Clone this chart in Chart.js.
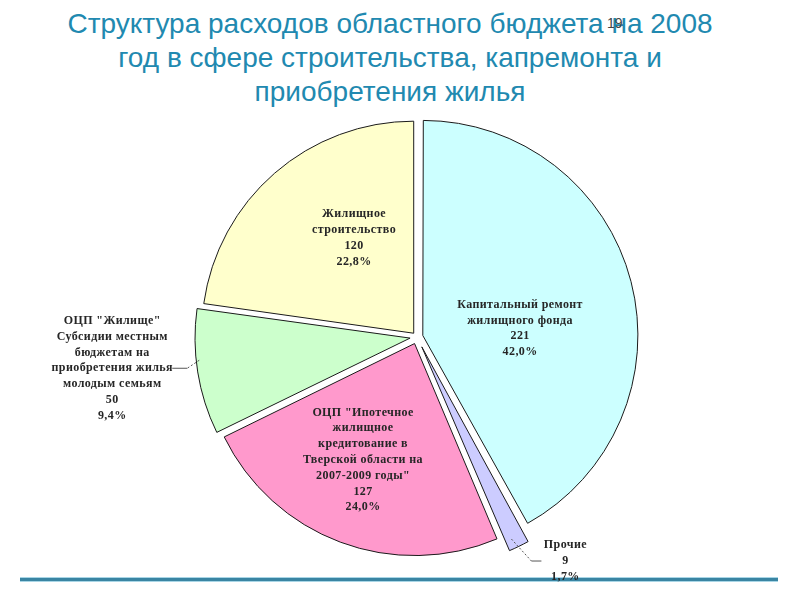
<!DOCTYPE html>
<html>
<head>
<meta charset="utf-8">
<script src="https://cdn.jsdelivr.net/npm/chart.js@4"></script>
<style>
  html, body { margin: 0; padding: 0; background: #fff; }
  #wrap { position: relative; width: 800px; height: 600px; overflow: hidden; }
  #title {
    position: absolute; left: -10px; top: 7px; width: 800px; text-align: center;
    font-family: "Liberation Sans", Arial, sans-serif; font-size: 28px; line-height: 34px;
    color: #2189b0;
  }
  #slideNo {
    position: absolute; left: 607px; top: 15px;
    font-family: "Liberation Sans", Arial, sans-serif; font-size: 14px; color: #444;
  }
  #rule {
    position: absolute; left: 20px; top: 577px; width: 758px; height: 3px;
    background: #3a85a3; border-top: 1px solid #a9d6e6; border-bottom: 1px solid #a9d6e6;
  }
  canvas { position: absolute; left: 0; top: 0; }
</style>
</head>
<body>
<div id="wrap">
  <div id="title">Структура расходов областного бюджета на 2008<br>год в сфере строительства, капремонта и<br>приобретения жилья</div>
  <div id="slideNo">19</div>
  <div id="rule"></div>
  <canvas id="budgetPie" width="800" height="600"></canvas>
</div>
<script>
const categories = [
  "Капитальный ремонт жилищного фонда",
  "Прочие",
  "ОЦП \"Ипотечное жилищное кредитование в Тверской области на 2007-2009 годы\"",
  "ОЦП \"Жилище\" Субсидии местным бюджетам на приобретения жилья молодым семьям",
  "Жилищное строительство"
];
const amounts = [221, 9, 127, 50, 120];
const shares = ["42,0%", "1,7%", "24,0%", "9,4%", "22,8%"];
const labelLines = [
  ["Капитальный ремонт", "жилищного фонда"],
  ["Прочие"],
  ["ОЦП \"Ипотечное", "жилищное", "кредитование в", "Тверской области на", "2007-2009 годы\""],
  ["ОЦП \"Жилище\"", "Субсидии местным", "бюджетам на", "приобретения жилья", "молодым семьям"],
  ["Жилищное", "строительство"]
];
const sliceColors = ["#ccffff", "#ccccff", "#ff99cc", "#ccffcc", "#ffffcc"];
// explode distance in pixels (Chart.js v4 draws offset / 4)
const sliceOffsets = [6, 11, 7, 7, 5];

// where each label goes: inside (angle shift from the middle, share of radius) or outside with a leader
const labelPlace = [
  { shift: 10.4, frac: 0.46 },
  { angle: 155, elbow: [20, 22], end: [10, 0], textDx: 24, row: 1 },
  { shift: 3.4, frac: 0.60 },
  { angle: 264, elbow: [-12, 8], end: [-15, 0], textDx: -60, row: 3 },
  { shift: 8.9, frac: 0.53 }
];

const sliceLabels = {
  id: "sliceLabels",
  afterDatasetsDraw(chart) {
    const ctx = chart.ctx;
    const arcs = chart.getDatasetMeta(0).data;
    const lh = 15.8;
    ctx.save();
    ctx.font = "bold 12px 'Liberation Serif', 'Times New Roman', serif";
    ctx.letterSpacing = "0.4px";
    ctx.textAlign = "center";
    ctx.textBaseline = "middle";
    arcs.forEach((arc, i) => {
      const p = arc.getProps(["x", "y", "startAngle", "endAngle", "outerRadius"], true);
      const mid = (p.startAngle + p.endAngle) / 2;
      const off = sliceOffsets[i];
      const cx = p.x + Math.cos(mid) * off;
      const cy = p.y + Math.sin(mid) * off;
      const lines = labelLines[i].concat([String(amounts[i]), shares[i]]);
      const place = labelPlace[i];
      let ax, ay, row;
      if (place.angle !== undefined) {
        const a = (place.angle - 90) * Math.PI / 180;
        const sx = cx + Math.cos(a) * p.outerRadius;
        const sy = cy + Math.sin(a) * p.outerRadius;
        const ex = sx + place.elbow[0], ey = sy + place.elbow[1];
        const fx = ex + place.end[0], fy = ey + place.end[1];
        ctx.strokeStyle = "#555";
        ctx.lineWidth = 1;
        ctx.setLineDash([2, 2]);
        ctx.beginPath();
        ctx.moveTo(sx, sy);
        ctx.lineTo(ex, ey);
        ctx.stroke();
        ctx.setLineDash([]);
        ctx.beginPath();
        ctx.moveTo(ex, ey);
        ctx.lineTo(fx, fy);
        ctx.stroke();
        ax = fx + place.textDx;
        ay = fy;
        row = place.row;
      } else {
        const a = mid + place.shift * Math.PI / 180;
        const r = p.outerRadius * place.frac;
        ax = cx + Math.cos(a) * r;
        ay = cy + Math.sin(a) * r;
        row = (lines.length - 1) / 2;
      }
      ctx.fillStyle = "#262626";
      lines.forEach((t, k) => ctx.fillText(t, ax, ay + (k - row) * lh));
    });
    ctx.restore();
  }
};

new Chart(document.getElementById("budgetPie").getContext("2d"), {
  type: "pie",
  data: {
    labels: categories,
    datasets: [{
      data: amounts,
      backgroundColor: sliceColors,
      borderColor: "#1a1a1a",
      borderWidth: 1,
      offset: sliceOffsets.map(o => o * 4)
    }]
  },
  options: {
    responsive: false,
    animation: false,
    events: [],
    radius: 212,
    layout: { padding: { left: 34, top: 74, right: 0, bottom: 0 } },
    plugins: {
      legend: { display: false },
      tooltip: { enabled: false }
    }
  },
  plugins: [sliceLabels]
});
</script>
</body>
</html>
